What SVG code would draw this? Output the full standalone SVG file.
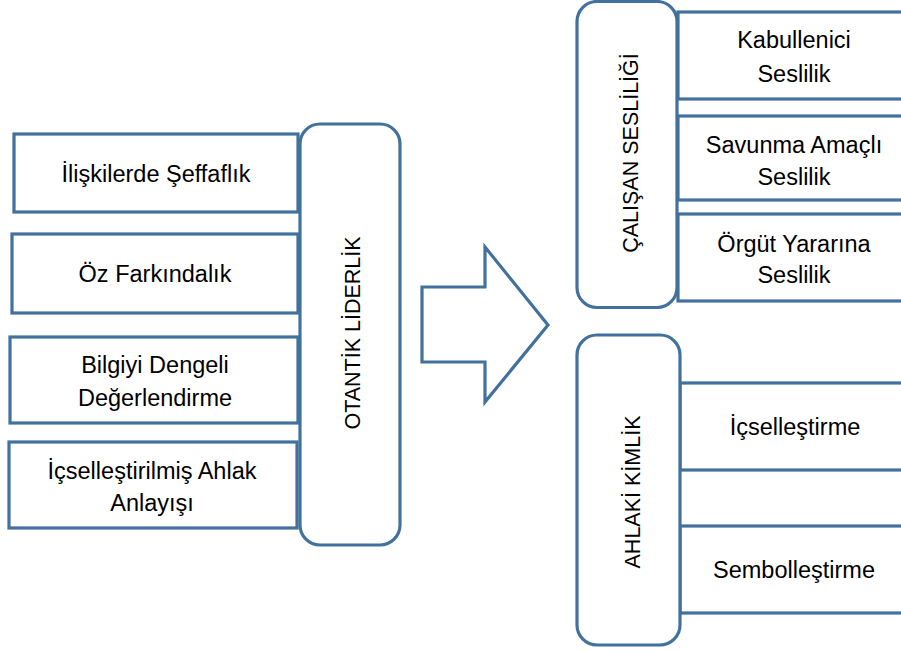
<svg xmlns="http://www.w3.org/2000/svg" width="901" height="652" viewBox="0 0 901 652">
<style>
.box{fill:#fff;stroke:#41719C;stroke-width:3.2}
.t{font-family:"Liberation Sans",Arial,sans-serif;font-size:23.5px;fill:#000;text-anchor:middle}
.v{font-family:"Liberation Sans",Arial,sans-serif;font-size:21.5px;fill:#000;text-anchor:middle}
</style>
<rect width="901" height="652" fill="#fff"/>
<g id="left-items">
<g id="n-seffaflik"><rect class="box" x="14" y="134" width="284" height="78"/><text class="t" x="156" y="182">İlişkilerde Şeffaflık</text></g>
<g id="n-ozfarkindalik"><rect class="box" x="12" y="234" width="286" height="79"/><text class="t" x="155" y="282">Öz Farkındalık</text></g>
<g id="n-bilgiyi"><rect class="box" x="10" y="337" width="288" height="86"/><text class="t" x="155" y="373">Bilgiyi Dengeli</text><text class="t" x="155" y="406">Değerlendirme</text></g>
<g id="n-icsellestirilmis"><rect class="box" x="9" y="442" width="288" height="86"/><text class="t" x="152" y="479">İçselleştirilmiş Ahlak</text><text class="t" x="152" y="511">Anlayışı</text></g>
</g>
<g id="n-otantik"><rect class="box" x="300" y="124" width="100" height="421" rx="20"/><text class="v" transform="translate(360,333) rotate(-90)">OTANTİK LİDERLİK</text></g>
<g id="connectors"><path class="box" d="M422,287 H485 V247 L548,325 L485,402 V362 H422 Z"/></g>
<g id="right-top-items">
<g id="n-kabullenici"><rect class="box" x="678" y="12" width="240" height="87"/><text class="t" x="794" y="48">Kabullenici</text><text class="t" x="794" y="82">Seslilik</text></g>
<g id="n-savunma"><rect class="box" x="678" y="116" width="240" height="84"/><text class="t" x="794" y="153">Savunma Amaçlı</text><text class="t" x="794" y="185">Seslilik</text></g>
<g id="n-orgut"><rect class="box" x="678" y="214" width="240" height="87"/><text class="t" x="794" y="252">Örgüt Yararına</text><text class="t" x="794" y="283">Seslilik</text></g>
</g>
<g id="n-calisan"><rect class="box" x="577" y="1.5" width="100" height="306" rx="20"/><text class="v" transform="translate(638,153) rotate(-90)">ÇALIŞAN SESLİLİĞİ</text></g>
<g id="right-bottom-items">
<g id="n-icsellestirme"><rect class="box" x="680" y="383" width="240" height="87"/><text class="t" x="795" y="435">İçselleştirme</text></g>
<g id="n-sembollestirme"><rect class="box" x="680" y="526" width="240" height="87"/><text class="t" x="794" y="578">Sembolleştirme</text></g>
</g>
<g id="n-ahlaki"><rect class="box" x="577" y="335" width="103" height="310" rx="20"/><text class="v" transform="translate(640,492) rotate(-90)">AHLAKİ KİMLİK</text></g>
</svg>
